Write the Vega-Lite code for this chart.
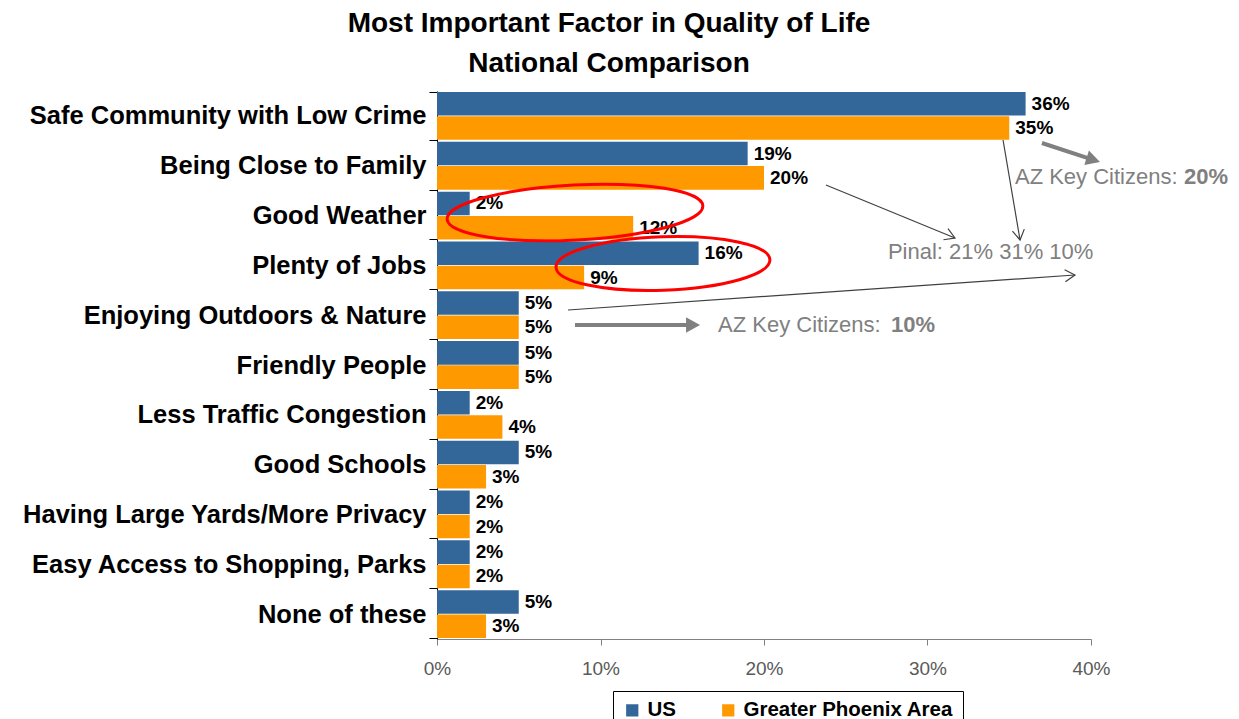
{
  "$schema": "https://vega.github.io/schema/vega-lite/v6.json",
  "width": 654,
  "height": 548,
  "autosize": {"type": "none"},
  "padding": {"left": 437, "top": 91, "right": 148, "bottom": 80},
  "background": "white",
  "title": {
    "text": ["Most Important Factor in Quality of Life", "National Comparison"],
    "font": "Liberation Sans",
    "fontSize": 28,
    "fontWeight": "bold",
    "color": "#000000",
    "anchor": "middle",
    "dx": -155,
    "lineHeight": 40,
    "offset": 1
  },
  "datasets": {
    "main": [
      {"factor": "Safe Community with Low Crime", "series": "US", "value": 0.36},
      {"factor": "Safe Community with Low Crime", "series": "Greater Phoenix Area", "value": 0.35},
      {"factor": "Being Close to Family", "series": "US", "value": 0.19},
      {"factor": "Being Close to Family", "series": "Greater Phoenix Area", "value": 0.20},
      {"factor": "Good Weather", "series": "US", "value": 0.02},
      {"factor": "Good Weather", "series": "Greater Phoenix Area", "value": 0.12},
      {"factor": "Plenty of Jobs", "series": "US", "value": 0.16},
      {"factor": "Plenty of Jobs", "series": "Greater Phoenix Area", "value": 0.09},
      {"factor": "Enjoying Outdoors & Nature", "series": "US", "value": 0.05},
      {"factor": "Enjoying Outdoors & Nature", "series": "Greater Phoenix Area", "value": 0.05},
      {"factor": "Friendly People", "series": "US", "value": 0.05},
      {"factor": "Friendly People", "series": "Greater Phoenix Area", "value": 0.05},
      {"factor": "Less Traffic Congestion", "series": "US", "value": 0.02},
      {"factor": "Less Traffic Congestion", "series": "Greater Phoenix Area", "value": 0.04},
      {"factor": "Good Schools", "series": "US", "value": 0.05},
      {"factor": "Good Schools", "series": "Greater Phoenix Area", "value": 0.03},
      {"factor": "Having Large Yards/More Privacy", "series": "US", "value": 0.02},
      {"factor": "Having Large Yards/More Privacy", "series": "Greater Phoenix Area", "value": 0.02},
      {"factor": "Easy Access to Shopping, Parks", "series": "US", "value": 0.02},
      {"factor": "Easy Access to Shopping, Parks", "series": "Greater Phoenix Area", "value": 0.02},
      {"factor": "None of these", "series": "US", "value": 0.05},
      {"factor": "None of these", "series": "Greater Phoenix Area", "value": 0.03}
    ],
    "thinArrows": [
      {"id": "t1", "x": 0.2379, "y": 1.887, "x2": 0.3168, "y2": 2.951},
      {"id": "t2", "x": 0.3462, "y": 0.984, "x2": 0.3566, "y2": 2.991},
      {"id": "t3", "x": 0.0801, "y": 4.396, "x2": 0.3902, "y2": 3.693}
    ],
    "thickArrows": [
      {"id": "g1", "x": 0.370, "y": 1.044, "x2": 0.4014, "y2": 1.383},
      {"id": "g2", "x": 0.0844, "y": 4.697, "x2": 0.1566, "y2": 4.697}
    ],
    "notes": [
      {"part": "plain", "x": 0.3535, "y": 1.72, "label": "AZ Key Citizens:"},
      {"part": "bold", "x": 0.4569, "y": 1.72, "label": "20%"},
      {"part": "plain", "x": 0.2758, "y": 3.23, "label": "Pinal: 21% 31% 10%"},
      {"part": "plain", "x": 0.1719, "y": 4.70, "label": "AZ Key Citizens:"},
      {"part": "bold", "x": 0.2777, "y": 4.70, "label": "10%"}
    ],
    "ellipses": [
      {"id": "e1", "x": 0.0844, "y": 2.439},
      {"id": "e2", "x": 0.1382, "y": 3.462}
    ]
  },
  "layer": [
    {
      "data": {"name": "main"},
      "encoding": {
        "y": {
          "field": "factor",
          "type": "nominal",
          "sort": ["Safe Community with Low Crime", "Being Close to Family", "Good Weather", "Plenty of Jobs", "Enjoying Outdoors & Nature", "Friendly People", "Less Traffic Congestion", "Good Schools", "Having Large Yards/More Privacy", "Easy Access to Shopping, Parks", "None of these"],
          "scale": {"paddingInner": 0.04, "paddingOuter": 0.02},
          "axis": {
            "title": null,
            "tickBand": "extent",
            "domainColor": "#000000",
            "tickColor": "#000000",
            "tickSize": 8,
            "labelFont": "Liberation Sans",
            "labelFontSize": 25.5,
            "labelFontWeight": "bold",
            "labelColor": "#000000",
            "labelPadding": 3,
            "labelLimit": 600
          }
        },
        "yOffset": {
          "field": "series",
          "type": "nominal",
          "sort": ["US", "Greater Phoenix Area"],
          "scale": {"paddingInner": 0.03}
        },
        "x": {
          "field": "value",
          "type": "quantitative",
          "scale": {"domain": [0, 0.4], "nice": false},
          "axis": {
            "title": null,
            "values": [0, 0.1, 0.2, 0.3, 0.4],
            "format": ".0%",
            "grid": false,
            "labelFlush": false,
            "domainColor": "#808080",
            "tickColor": "#808080",
            "tickSize": 6,
            "labelFont": "Liberation Sans",
            "labelFontSize": 19,
            "labelColor": "#595959",
            "labelPadding": 14
          }
        }
      },
      "layer": [
        {
          "mark": {"type": "bar"},
          "encoding": {
            "color": {
              "field": "series",
              "type": "nominal",
              "sort": ["US", "Greater Phoenix Area"],
              "scale": {"domain": ["US", "Greater Phoenix Area"], "range": ["#336699", "#FF9900"]},
              "legend": {
                "title": null,
                "orient": "none",
                "legendX": 176,
                "legendY": 600,
                "direction": "horizontal",
                "strokeColor": "#000000",
                "fillColor": "#ffffff",
                "padding": 9,
                "symbolType": "square",
                "symbolSize": 150,
                "symbolStrokeWidth": 0,
                "labelFont": "Liberation Sans",
                "labelFontSize": 20.5,
                "labelFontWeight": "bold",
                "labelColor": "#000000",
                "labelOffset": 5,
                "labelLimit": 400,
                "columnPadding": 42
              }
            }
          }
        },
        {
          "mark": {"type": "text", "align": "left", "baseline": "middle", "dx": 6, "font": "Liberation Sans", "fontSize": 19, "fontWeight": "bold", "color": "#000000"},
          "encoding": {
            "text": {"field": "value", "type": "quantitative", "format": ".0%"}
          }
        }
      ]
    },
    {
      "data": {"name": "thinArrows"},
      "mark": {"type": "rule", "color": "#404040", "strokeWidth": 1.2},
      "encoding": {
        "x": {"field": "x", "type": "quantitative", "scale": {"domain": [0, 0.4], "nice": false}, "title": null},
        "x2": {"field": "x2"},
        "y": {"field": "y", "type": "quantitative", "scale": {"domain": [0, 11], "reverse": true, "nice": false, "zero": false}, "axis": null},
        "y2": {"field": "y2"}
      }
    },
    {
      "data": {"name": "thinArrows"},
      "transform": [{"filter": "datum.id == 't1'"}],
      "mark": {"type": "point", "shape": "M -1 -0.6 L 0 0 L -1 0.6", "size": 400, "filled": false, "color": "#404040", "strokeWidth": 1.2, "angle": 22.3, "opacity": 1},
      "encoding": {
        "x": {"field": "x2", "type": "quantitative", "scale": {"domain": [0, 0.4], "nice": false}, "title": null},
        "y": {"field": "y2", "type": "quantitative", "scale": {"domain": [0, 11], "reverse": true, "nice": false, "zero": false}, "axis": null}
      }
    },
    {
      "data": {"name": "thinArrows"},
      "transform": [{"filter": "datum.id == 't2'"}],
      "mark": {"type": "point", "shape": "M -1 -0.6 L 0 0 L -1 0.6", "size": 400, "filled": false, "color": "#404040", "strokeWidth": 1.2, "angle": 80.4, "opacity": 1},
      "encoding": {
        "x": {"field": "x2", "type": "quantitative", "scale": {"domain": [0, 0.4], "nice": false}, "title": null},
        "y": {"field": "y2", "type": "quantitative", "scale": {"domain": [0, 11], "reverse": true, "nice": false, "zero": false}, "axis": null}
      }
    },
    {
      "data": {"name": "thinArrows"},
      "transform": [{"filter": "datum.id == 't3'"}],
      "mark": {"type": "point", "shape": "M -1 -0.6 L 0 0 L -1 0.6", "size": 400, "filled": false, "color": "#404040", "strokeWidth": 1.2, "angle": -4, "opacity": 1},
      "encoding": {
        "x": {"field": "x2", "type": "quantitative", "scale": {"domain": [0, 0.4], "nice": false}, "title": null},
        "y": {"field": "y2", "type": "quantitative", "scale": {"domain": [0, 11], "reverse": true, "nice": false, "zero": false}, "axis": null}
      }
    },
    {
      "data": {"name": "thickArrows"},
      "mark": {"type": "rule", "color": "#808080", "strokeWidth": 4},
      "encoding": {
        "x": {"field": "x", "type": "quantitative", "scale": {"domain": [0, 0.4], "nice": false}, "title": null},
        "x2": {"field": "x2"},
        "y": {"field": "y", "type": "quantitative", "scale": {"domain": [0, 11], "reverse": true, "nice": false, "zero": false}, "axis": null},
        "y2": {"field": "y2"}
      }
    },
    {
      "data": {"name": "thickArrows"},
      "transform": [{"filter": "datum.id == 'g1'"}],
      "mark": {"type": "point", "shape": "M 0.5 0 L -0.5 -0.55 L -0.5 0.55 Z", "size": 784, "filled": true, "color": "#808080", "angle": 17.6, "opacity": 1},
      "encoding": {
        "x": {"field": "x2", "type": "quantitative", "scale": {"domain": [0, 0.4], "nice": false}, "title": null},
        "y": {"field": "y2", "type": "quantitative", "scale": {"domain": [0, 11], "reverse": true, "nice": false, "zero": false}, "axis": null}
      }
    },
    {
      "data": {"name": "thickArrows"},
      "transform": [{"filter": "datum.id == 'g2'"}],
      "mark": {"type": "point", "shape": "M 0.5 0 L -0.5 -0.55 L -0.5 0.55 Z", "size": 784, "filled": true, "color": "#808080", "angle": 0, "opacity": 1},
      "encoding": {
        "x": {"field": "x2", "type": "quantitative", "scale": {"domain": [0, 0.4], "nice": false}, "title": null},
        "y": {"field": "y2", "type": "quantitative", "scale": {"domain": [0, 11], "reverse": true, "nice": false, "zero": false}, "axis": null}
      }
    },
    {
      "data": {"name": "notes"},
      "transform": [{"filter": "datum.part == 'plain'"}],
      "mark": {"type": "text", "align": "left", "baseline": "middle", "font": "Liberation Sans", "fontSize": 22, "color": "#808080"},
      "encoding": {
        "x": {"field": "x", "type": "quantitative", "scale": {"domain": [0, 0.4], "nice": false}, "title": null},
        "y": {"field": "y", "type": "quantitative", "scale": {"domain": [0, 11], "reverse": true, "nice": false, "zero": false}, "axis": null},
        "text": {"field": "label"}
      }
    },
    {
      "data": {"name": "notes"},
      "transform": [{"filter": "datum.part == 'bold'"}],
      "mark": {"type": "text", "align": "left", "baseline": "middle", "font": "Liberation Sans", "fontSize": 22, "fontWeight": "bold", "color": "#808080"},
      "encoding": {
        "x": {"field": "x", "type": "quantitative", "scale": {"domain": [0, 0.4], "nice": false}, "title": null},
        "y": {"field": "y", "type": "quantitative", "scale": {"domain": [0, 11], "reverse": true, "nice": false, "zero": false}, "axis": null},
        "text": {"field": "label"}
      }
    },
    {
      "data": {"name": "ellipses"},
      "transform": [{"filter": "datum.id == 'e1'"}],
      "mark": {"type": "point", "shape": "M -1 0 C -1 -0.1187 -0.5523 -0.215 0 -0.215 C 0.5523 -0.215 1 -0.1187 1 0 C 1 0.1187 0.5523 0.215 0 0.215 C -0.5523 0.215 -1 0.1187 -1 0 Z", "size": 65536, "filled": false, "color": "#FF0000", "strokeWidth": 3, "angle": -3, "opacity": 1},
      "encoding": {
        "x": {"field": "x", "type": "quantitative", "scale": {"domain": [0, 0.4], "nice": false}, "title": null},
        "y": {"field": "y", "type": "quantitative", "scale": {"domain": [0, 11], "reverse": true, "nice": false, "zero": false}, "axis": null}
      }
    },
    {
      "data": {"name": "ellipses"},
      "transform": [{"filter": "datum.id == 'e2'"}],
      "mark": {"type": "point", "shape": "M -1 0 C -1 -0.1381 -0.5523 -0.25 0 -0.25 C 0.5523 -0.25 1 -0.1381 1 0 C 1 0.1381 0.5523 0.25 0 0.25 C -0.5523 0.25 -1 0.1381 -1 0 Z", "size": 45796, "filled": false, "color": "#FF0000", "strokeWidth": 3, "angle": -2, "opacity": 1},
      "encoding": {
        "x": {"field": "x", "type": "quantitative", "scale": {"domain": [0, 0.4], "nice": false}, "title": null},
        "y": {"field": "y", "type": "quantitative", "scale": {"domain": [0, 11], "reverse": true, "nice": false, "zero": false}, "axis": null}
      }
    }
  ],
  "resolve": {"scale": {"y": "independent"}},
  "config": {
    "view": {"stroke": null},
    "font": "Liberation Sans"
  }
}
